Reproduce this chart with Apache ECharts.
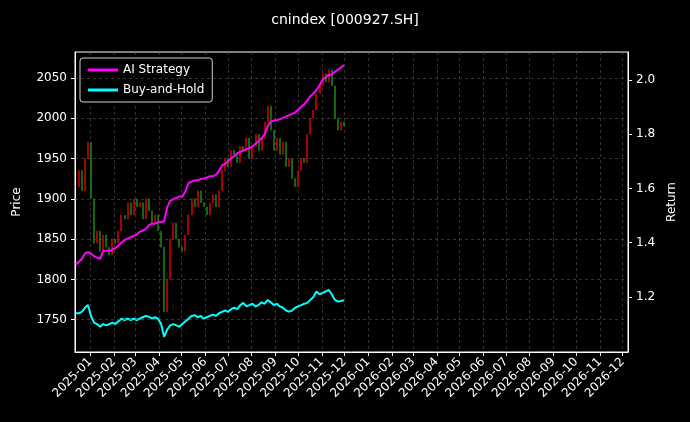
<!DOCTYPE html>
<html>
<head>
<meta charset="utf-8">
<script src="https://cdn.jsdelivr.net/npm/echarts@6/dist/echarts.min.js"></script>
<style>html,body{margin:0;background:#000}#c{width:690px;height:422px}</style>
</head>
<body>
<div id="c"></div>
<script>
"use strict";

// sampled every 4 days from the start date
var startDate = "2024-12-13";
var closes = [1915,1935,1910,1950,1970,1900,1845,1860,1835,1855,
  1840,1830,1850,1845,1860,1880,1875,1895,1880,1900,
  1890,1895,1875,1900,1885,1870,1880,1860,1840,1760,
  1800,1850,1870,1850,1840,1835,1855,1880,1900,1890,
  1910,1895,1890,1880,1895,1905,1890,1910,1935,1950,
  1940,1960,1955,1945,1965,1960,1975,1950,1965,1980,
  1960,1975,1995,2015,1985,1960,1975,1955,1970,1940,
  1950,1925,1915,1935,1950,1945,1980,2000,2010,2030,
  2040,2055,2045,2060,2040,2000,1985,1995,1990];
var aiStrategy = [1.32,1.33,1.34,1.36,1.365,1.36,1.35,1.345,1.34,1.37,
  1.37,1.37,1.375,1.38,1.39,1.40,1.41,1.415,1.42,1.425,
  1.43,1.44,1.445,1.45,1.465,1.47,1.47,1.475,1.475,1.48,
  1.53,1.555,1.56,1.565,1.57,1.57,1.59,1.62,1.625,1.63,
  1.63,1.635,1.637,1.64,1.645,1.645,1.65,1.665,1.685,1.69,
  1.70,1.71,1.72,1.73,1.735,1.74,1.745,1.748,1.755,1.765,
  1.775,1.785,1.80,1.83,1.846,1.85,1.852,1.855,1.86,1.865,
  1.87,1.875,1.88,1.89,1.90,1.91,1.925,1.94,1.95,1.963,
  1.98,2.0,2.01,2.018,2.02,2.03,2.037,2.045,2.055];
var buyHold = [1.14,1.14,1.145,1.16,1.17,1.13,1.105,1.10,1.09,1.10,
  1.095,1.10,1.105,1.10,1.11,1.12,1.115,1.12,1.115,1.12,
  1.115,1.12,1.125,1.13,1.127,1.12,1.125,1.12,1.10,1.053,
  1.08,1.095,1.10,1.095,1.09,1.10,1.11,1.12,1.13,1.133,
  1.125,1.13,1.12,1.125,1.13,1.135,1.13,1.14,1.145,1.15,
  1.145,1.155,1.16,1.155,1.17,1.178,1.165,1.17,1.175,1.165,
  1.17,1.18,1.175,1.189,1.18,1.17,1.175,1.165,1.16,1.15,
  1.146,1.15,1.16,1.165,1.17,1.175,1.178,1.19,1.20,1.22,
  1.21,1.215,1.22,1.226,1.21,1.19,1.183,1.185,1.188];
var priceTicks = [1750,1800,1850,1900,1950,2000,2050];
var returnTicks = [1.2,1.4,1.6,1.8,2.0];

var DAY = 86400000;
var t0 = new Date(startDate + "T00:00:00Z").getTime();
var dates = closes.map(function(_, i){ return t0 + i * 4 * DAY; });
var candles = closes.map(function(c, i){
  var o = i ? closes[i-1] : c;
  return [dates[i], o, c, Math.min(o, c), Math.max(o, c)];
});

var chart = echarts.init(document.getElementById("c"));
var white = "#fff";
var font = "DejaVu Sans";

chart.setOption({
  backgroundColor: "#000",
  animation: false,
  textStyle: {fontFamily: font},
  title: {text: "cnindex [000927.SH]", left: "center", top: 8,
    textStyle: {color: white, fontSize: 14, fontWeight: "normal", fontFamily: font}},
  grid: {left: 75, right: 62, top: 52, bottom: 70, show: true, borderColor: white, borderWidth: 1},
  legend: {
    left: 80, top: 58, orient: "vertical", itemWidth: 30, itemHeight: 3, itemGap: 8,
    backgroundColor: "#000", borderColor: "#ccc", borderWidth: 1, borderRadius: 3, padding: [6, 8],
    textStyle: {color: white, fontSize: 12, fontFamily: font},
    data: [{name: "AI Strategy", icon: "rect"}, {name: "Buy-and-Hold", icon: "rect"}]
  },
  xAxis: {
    type: "time",
    min: Date.UTC(2024, 11, 12), max: Date.UTC(2026, 11, 8),
    splitNumber: 24, minInterval: 28 * DAY,
    axisLine: {lineStyle: {color: white}},
    axisTick: {lineStyle: {color: white}, length: 4},
    axisLabel: {color: white, fontSize: 12, rotate: 45, formatter: "{yyyy}-{MM}", hideOverlap: false},
    splitLine: {show: true, lineStyle: {color: "#555", type: [3, 3], width: 0.6}}
  },
  yAxis: [{
    type: "value", name: "Price", nameLocation: "middle", nameGap: 52,
    nameTextStyle: {color: white, fontSize: 12},
    min: 1710, max: 2082, position: "left",
    axisLine: {show: true, lineStyle: {color: white}},
    axisTick: {show: true, customValues: priceTicks, lineStyle: {color: white}, length: 4},
    axisLabel: {color: white, fontSize: 12, customValues: priceTicks, formatter: function(v){ return String(v); }},
    splitLine: {show: false}
  }, {
    type: "value", name: "Return", nameLocation: "middle", nameGap: 38,
    nameTextStyle: {color: white, fontSize: 12},
    min: 0.997, max: 2.103, position: "right",
    axisLine: {show: true, lineStyle: {color: white}},
    axisTick: {show: true, customValues: returnTicks, lineStyle: {color: white}, length: 4},
    axisLabel: {color: white, fontSize: 12, customValues: returnTicks, formatter: function(v){ return v.toFixed(1); }},
    splitLine: {show: false}
  }],
  series: [{
    type: "candlestick", yAxisIndex: 0, data: candles, barWidth: 1.5,
    itemStyle: {color: "#e00000", color0: "#1a8a1a", borderColor: "#e00000", borderColor0: "#1a8a1a", borderWidth: 0.5},
    markLine: {silent: true, symbol: "none", label: {show: false},
      lineStyle: {color: "#555", type: [3, 3], width: 0.6},
      data: priceTicks.map(function(v){ return {yAxis: v}; })}
  }, {
    name: "AI Strategy", type: "line", yAxisIndex: 1, showSymbol: false,
    data: dates.map(function(d, i){ return [d, aiStrategy[i]]; }),
    lineStyle: {color: "#ff00ff", width: 2}, itemStyle: {color: "#ff00ff"}
  }, {
    name: "Buy-and-Hold", type: "line", yAxisIndex: 1, showSymbol: false,
    data: dates.map(function(d, i){ return [d, buyHold[i]]; }),
    lineStyle: {color: "#00ffff", width: 2}, itemStyle: {color: "#00ffff"}
  }]
});
</script>
</body>
</html>
